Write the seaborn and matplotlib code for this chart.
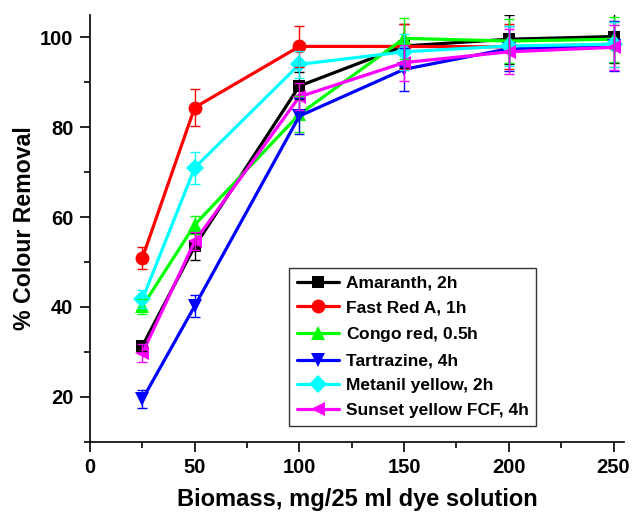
import matplotlib
matplotlib.use("Agg")
import matplotlib.pyplot as plt
from matplotlib.ticker import MultipleLocator
import seaborn as sns
import pandas as pd

# ---- data ----
biomass = [25, 50, 100, 150, 200, 250]
series_names = ["Amaranth, 2h", "Fast Red A, 1h", "Congo red, 0.5$\\mathrm{h}$",
                "Tartrazine, 4h", "Metanil yellow, 2h", "Sunset yellow FCF, 4h"]
amaranth = [31.3, 53.5, 89.2, 98.1, 99.6, 100.2]
fast_red = [50.9, 84.4, 98.0, 98.0, 97.9, 98.5]
congo_red = [40.1, 58.3, 82.9, 99.8, 99.2, 99.6]
tartrazine = [19.4, 40.2, 82.5, 92.9, 97.5, 98.1]
metanil = [41.7, 71.0, 94.0, 96.8, 98.1, 98.5]
sunset = [29.7, 54.6, 86.8, 94.4, 96.8, 97.8]

amaranth_err = [1.0, 3.0, 3.0, 5.0, 5.5, 6.0]
fast_red_err = [2.5, 4.2, 4.6, 5.0, 5.0, 5.0]
congo_red_err = [1.7, 2.0, 4.0, 4.5, 5.0, 5.0]
tartrazine_err = [2.0, 2.5, 4.0, 4.8, 5.0, 5.5]
metanil_err = [2.0, 3.6, 3.0, 4.0, 4.5, 5.0]
sunset_err = [2.0, 2.0, 3.0, 4.0, 5.0, 5.0]

values = [amaranth, fast_red, congo_red, tartrazine, metanil, sunset]
errors = [amaranth_err, fast_red_err, congo_red_err, tartrazine_err, metanil_err, sunset_err]

colors = ["#000000", "#ff0000", "#00ff00", "#0000ff", "#00ffff", "#ff00ff"]
markers = ["s", "o", "^", "v", "D", "<"]
msizes = [9, 10, 10, 10, 9, 10]

sns.set_style("ticks")
plt.rcParams["font.family"] = ["Liberation Sans", "DejaVu Sans"]
plt.rcParams["font.weight"] = "bold"
plt.rcParams["mathtext.fontset"] = "custom"
plt.rcParams["mathtext.rm"] = "Liberation Sans"
plt.rcParams["text.color"] = "black"
plt.rcParams["axes.labelcolor"] = "black"
plt.rcParams["xtick.color"] = "black"
plt.rcParams["ytick.color"] = "black"
plt.rcParams["axes.edgecolor"] = "black"

fig = plt.figure(figsize=(6.32, 5.13), dpi=100)
ax = fig.add_axes([0.1424, 0.139, 0.8449, 0.8318])

rows = []
for name, vals, errs in zip(series_names, values, errors):
    for x, v, e in zip(biomass, vals, errs):
        rows.append({"Biomass": x, "Removal": v, "Err": e, "Dye": name})
df = pd.DataFrame(rows)

for i, name in enumerate(series_names):
    sub = df[df["Dye"] == name]
    sns.lineplot(data=sub, x="Biomass", y="Removal", ax=ax, color=colors[i],
                 marker=markers[i], markersize=msizes[i], linewidth=2.3,
                 markeredgewidth=0, label=name, zorder=2 + i)
for i, name in enumerate(series_names):
    sub = df[df["Dye"] == name]
    ax.errorbar(sub["Biomass"], sub["Removal"], yerr=sub["Err"], fmt="none",
                ecolor=colors[i], elinewidth=1.0, capsize=3.5, capthick=1.0,
                zorder=10 + i)

ax.set_xlim(0, 255)
ax.set_ylim(10, 105)
ax.xaxis.set_major_locator(MultipleLocator(50))
ax.xaxis.set_minor_locator(MultipleLocator(25))
ax.yaxis.set_major_locator(MultipleLocator(20))
ax.yaxis.set_minor_locator(MultipleLocator(10))
ax.tick_params(axis="both", which="major", length=7, width=1.2, labelsize=14.5,
               direction="out", pad=5, color="black", labelcolor="black")
ax.tick_params(axis="both", which="minor", length=4, width=1.2, direction="out",
               color="black")
for lab in ax.get_xticklabels() + ax.get_yticklabels():
    lab.set_fontweight("bold")

for s in ["top", "right"]:
    ax.spines[s].set_visible(False)
for s in ["left", "bottom"]:
    ax.spines[s].set_linewidth(1.2)
    ax.spines[s].set_color("black")

ax.set_xlabel("Biomass, mg/25 ml dye solution", fontsize=17, fontweight="bold",
              labelpad=8, color="black")
ax.set_ylabel("% Colour Removal", fontsize=16.7, fontweight="bold", labelpad=3,
              color="black")

leg = ax.legend(loc="lower left", bbox_to_anchor=(0.373, 0.037),
                borderaxespad=0, frameon=True, fancybox=False, shadow=False,
                handlelength=2.4, labelspacing=0.55,
                handletextpad=0.4, borderpad=0.45, edgecolor="black",
                prop={"weight": "bold", "size": 12.5})
leg.get_frame().set_linewidth(1.0)
for t in leg.get_texts():
    t.set_color("black")

fig.savefig("out.png", dpi=100)
